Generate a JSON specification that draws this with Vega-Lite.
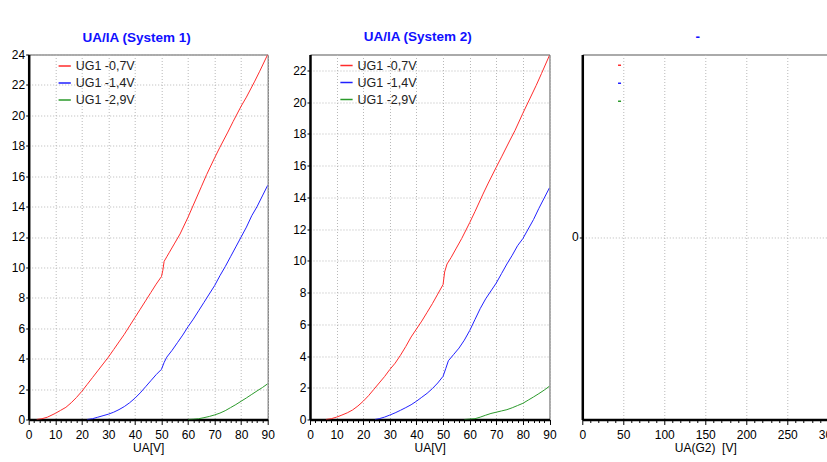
{
  "$schema": "https://vega.github.io/schema/vega-lite/v6.json",
  "padding": {"left": 10.7, "top": 29.5, "right": 0, "bottom": 0},
  "background": "white",
  "spacing": 13.3,
  "bounds": "full",
  "config": {
    "font": "Liberation Sans",
    "view": {"stroke": "#555555", "strokeWidth": 1},
    "axis": {
      "labelFont": "Liberation Sans", "labelFontSize": 12, "labelColor": "#000000",
      "titleFont": "Liberation Sans", "titleFontSize": 12, "titleFontWeight": "normal", "titleColor": "#000000",
      "domainColor": "#000000", "domainWidth": 2.5, "tickColor": "#000000", "tickWidth": 1,
      "gridColor": "#b8b8b8", "gridDash": [1, 2], "gridWidth": 1
    },
    "title": {"font": "Liberation Sans", "fontSize": 13.5, "fontWeight": "bold", "color": "#1010ff", "baseline": "alphabetic", "offset": 11},
    "legend": {"padding": 0, "labelFont": "Liberation Sans", "labelFontSize": 12.5, "labelColor": "#222222", "symbolType": "stroke", "symbolOffset": 0}
  },
  "datasets": {
    "curves": [
      {"panel": "S1", "series": "UG1 -0,7V", "ua": 3, "ia": 0},
      {"panel": "S1", "series": "UG1 -0,7V", "ua": 5, "ia": 0.05},
      {"panel": "S1", "series": "UG1 -0,7V", "ua": 7, "ia": 0.15},
      {"panel": "S1", "series": "UG1 -0,7V", "ua": 10, "ia": 0.4},
      {"panel": "S1", "series": "UG1 -0,7V", "ua": 12, "ia": 0.6},
      {"panel": "S1", "series": "UG1 -0,7V", "ua": 14, "ia": 0.8},
      {"panel": "S1", "series": "UG1 -0,7V", "ua": 16, "ia": 1.1},
      {"panel": "S1", "series": "UG1 -0,7V", "ua": 18, "ia": 1.45},
      {"panel": "S1", "series": "UG1 -0,7V", "ua": 20, "ia": 1.85},
      {"panel": "S1", "series": "UG1 -0,7V", "ua": 22, "ia": 2.3},
      {"panel": "S1", "series": "UG1 -0,7V", "ua": 24, "ia": 2.75},
      {"panel": "S1", "series": "UG1 -0,7V", "ua": 26, "ia": 3.2},
      {"panel": "S1", "series": "UG1 -0,7V", "ua": 28, "ia": 3.65},
      {"panel": "S1", "series": "UG1 -0,7V", "ua": 30, "ia": 4.1},
      {"panel": "S1", "series": "UG1 -0,7V", "ua": 32, "ia": 4.6},
      {"panel": "S1", "series": "UG1 -0,7V", "ua": 34, "ia": 5.1},
      {"panel": "S1", "series": "UG1 -0,7V", "ua": 36, "ia": 5.6},
      {"panel": "S1", "series": "UG1 -0,7V", "ua": 38, "ia": 6.15},
      {"panel": "S1", "series": "UG1 -0,7V", "ua": 40, "ia": 6.7},
      {"panel": "S1", "series": "UG1 -0,7V", "ua": 42, "ia": 7.25},
      {"panel": "S1", "series": "UG1 -0,7V", "ua": 44, "ia": 7.8},
      {"panel": "S1", "series": "UG1 -0,7V", "ua": 46, "ia": 8.35},
      {"panel": "S1", "series": "UG1 -0,7V", "ua": 48, "ia": 8.9},
      {"panel": "S1", "series": "UG1 -0,7V", "ua": 50, "ia": 9.4},
      {"panel": "S1", "series": "UG1 -0,7V", "ua": 50.5, "ia": 9.8},
      {"panel": "S1", "series": "UG1 -0,7V", "ua": 51, "ia": 10.4},
      {"panel": "S1", "series": "UG1 -0,7V", "ua": 52, "ia": 10.7},
      {"panel": "S1", "series": "UG1 -0,7V", "ua": 53, "ia": 11.0},
      {"panel": "S1", "series": "UG1 -0,7V", "ua": 55, "ia": 11.6},
      {"panel": "S1", "series": "UG1 -0,7V", "ua": 57, "ia": 12.2},
      {"panel": "S1", "series": "UG1 -0,7V", "ua": 60, "ia": 13.3},
      {"panel": "S1", "series": "UG1 -0,7V", "ua": 62, "ia": 14.1},
      {"panel": "S1", "series": "UG1 -0,7V", "ua": 65, "ia": 15.3},
      {"panel": "S1", "series": "UG1 -0,7V", "ua": 67, "ia": 16.1},
      {"panel": "S1", "series": "UG1 -0,7V", "ua": 70, "ia": 17.2},
      {"panel": "S1", "series": "UG1 -0,7V", "ua": 72, "ia": 17.9},
      {"panel": "S1", "series": "UG1 -0,7V", "ua": 75, "ia": 18.9},
      {"panel": "S1", "series": "UG1 -0,7V", "ua": 77, "ia": 19.6},
      {"panel": "S1", "series": "UG1 -0,7V", "ua": 80, "ia": 20.6},
      {"panel": "S1", "series": "UG1 -0,7V", "ua": 82, "ia": 21.2},
      {"panel": "S1", "series": "UG1 -0,7V", "ua": 85, "ia": 22.2},
      {"panel": "S1", "series": "UG1 -0,7V", "ua": 87, "ia": 22.9},
      {"panel": "S1", "series": "UG1 -0,7V", "ua": 90, "ia": 24.0},
      {"panel": "S1", "series": "UG1 -1,4V", "ua": 22, "ia": 0},
      {"panel": "S1", "series": "UG1 -1,4V", "ua": 24, "ia": 0.05},
      {"panel": "S1", "series": "UG1 -1,4V", "ua": 26, "ia": 0.15},
      {"panel": "S1", "series": "UG1 -1,4V", "ua": 28, "ia": 0.25},
      {"panel": "S1", "series": "UG1 -1,4V", "ua": 30, "ia": 0.35},
      {"panel": "S1", "series": "UG1 -1,4V", "ua": 32, "ia": 0.48},
      {"panel": "S1", "series": "UG1 -1,4V", "ua": 34, "ia": 0.65},
      {"panel": "S1", "series": "UG1 -1,4V", "ua": 36, "ia": 0.85},
      {"panel": "S1", "series": "UG1 -1,4V", "ua": 38, "ia": 1.1},
      {"panel": "S1", "series": "UG1 -1,4V", "ua": 40, "ia": 1.4},
      {"panel": "S1", "series": "UG1 -1,4V", "ua": 42, "ia": 1.75},
      {"panel": "S1", "series": "UG1 -1,4V", "ua": 44, "ia": 2.15},
      {"panel": "S1", "series": "UG1 -1,4V", "ua": 46, "ia": 2.55},
      {"panel": "S1", "series": "UG1 -1,4V", "ua": 48, "ia": 2.95},
      {"panel": "S1", "series": "UG1 -1,4V", "ua": 50, "ia": 3.3},
      {"panel": "S1", "series": "UG1 -1,4V", "ua": 51, "ia": 3.75},
      {"panel": "S1", "series": "UG1 -1,4V", "ua": 52, "ia": 4.1},
      {"panel": "S1", "series": "UG1 -1,4V", "ua": 54, "ia": 4.55},
      {"panel": "S1", "series": "UG1 -1,4V", "ua": 56, "ia": 5.05},
      {"panel": "S1", "series": "UG1 -1,4V", "ua": 58, "ia": 5.55},
      {"panel": "S1", "series": "UG1 -1,4V", "ua": 60, "ia": 6.1},
      {"panel": "S1", "series": "UG1 -1,4V", "ua": 62, "ia": 6.6},
      {"panel": "S1", "series": "UG1 -1,4V", "ua": 64, "ia": 7.15},
      {"panel": "S1", "series": "UG1 -1,4V", "ua": 66, "ia": 7.7},
      {"panel": "S1", "series": "UG1 -1,4V", "ua": 68, "ia": 8.25},
      {"panel": "S1", "series": "UG1 -1,4V", "ua": 70, "ia": 8.8},
      {"panel": "S1", "series": "UG1 -1,4V", "ua": 72, "ia": 9.45},
      {"panel": "S1", "series": "UG1 -1,4V", "ua": 74, "ia": 10.05},
      {"panel": "S1", "series": "UG1 -1,4V", "ua": 76, "ia": 10.7},
      {"panel": "S1", "series": "UG1 -1,4V", "ua": 78, "ia": 11.35},
      {"panel": "S1", "series": "UG1 -1,4V", "ua": 80, "ia": 12.0},
      {"panel": "S1", "series": "UG1 -1,4V", "ua": 82, "ia": 12.65},
      {"panel": "S1", "series": "UG1 -1,4V", "ua": 84, "ia": 13.4},
      {"panel": "S1", "series": "UG1 -1,4V", "ua": 86, "ia": 14.0},
      {"panel": "S1", "series": "UG1 -1,4V", "ua": 88, "ia": 14.7},
      {"panel": "S1", "series": "UG1 -1,4V", "ua": 90, "ia": 15.4},
      {"panel": "S1", "series": "UG1 -2,9V", "ua": 60, "ia": 0},
      {"panel": "S1", "series": "UG1 -2,9V", "ua": 62, "ia": 0.02},
      {"panel": "S1", "series": "UG1 -2,9V", "ua": 64, "ia": 0.05},
      {"panel": "S1", "series": "UG1 -2,9V", "ua": 66, "ia": 0.12},
      {"panel": "S1", "series": "UG1 -2,9V", "ua": 68, "ia": 0.2},
      {"panel": "S1", "series": "UG1 -2,9V", "ua": 70, "ia": 0.3},
      {"panel": "S1", "series": "UG1 -2,9V", "ua": 72, "ia": 0.42},
      {"panel": "S1", "series": "UG1 -2,9V", "ua": 74, "ia": 0.58},
      {"panel": "S1", "series": "UG1 -2,9V", "ua": 76, "ia": 0.78},
      {"panel": "S1", "series": "UG1 -2,9V", "ua": 78, "ia": 0.98},
      {"panel": "S1", "series": "UG1 -2,9V", "ua": 80, "ia": 1.2},
      {"panel": "S1", "series": "UG1 -2,9V", "ua": 82, "ia": 1.42},
      {"panel": "S1", "series": "UG1 -2,9V", "ua": 84, "ia": 1.65},
      {"panel": "S1", "series": "UG1 -2,9V", "ua": 86, "ia": 1.88},
      {"panel": "S1", "series": "UG1 -2,9V", "ua": 88, "ia": 2.1},
      {"panel": "S1", "series": "UG1 -2,9V", "ua": 90, "ia": 2.35},
      {"panel": "S2", "series": "UG1 -0,7V", "ua": 6, "ia": 0},
      {"panel": "S2", "series": "UG1 -0,7V", "ua": 8, "ia": 0.05},
      {"panel": "S2", "series": "UG1 -0,7V", "ua": 10, "ia": 0.15},
      {"panel": "S2", "series": "UG1 -0,7V", "ua": 12, "ia": 0.28},
      {"panel": "S2", "series": "UG1 -0,7V", "ua": 14, "ia": 0.42},
      {"panel": "S2", "series": "UG1 -0,7V", "ua": 16, "ia": 0.6},
      {"panel": "S2", "series": "UG1 -0,7V", "ua": 18, "ia": 0.85},
      {"panel": "S2", "series": "UG1 -0,7V", "ua": 20, "ia": 1.15},
      {"panel": "S2", "series": "UG1 -0,7V", "ua": 22, "ia": 1.5},
      {"panel": "S2", "series": "UG1 -0,7V", "ua": 24, "ia": 1.9},
      {"panel": "S2", "series": "UG1 -0,7V", "ua": 26, "ia": 2.3},
      {"panel": "S2", "series": "UG1 -0,7V", "ua": 28, "ia": 2.7},
      {"panel": "S2", "series": "UG1 -0,7V", "ua": 30, "ia": 3.15},
      {"panel": "S2", "series": "UG1 -0,7V", "ua": 32, "ia": 3.55},
      {"panel": "S2", "series": "UG1 -0,7V", "ua": 34, "ia": 4.05},
      {"panel": "S2", "series": "UG1 -0,7V", "ua": 36, "ia": 4.6},
      {"panel": "S2", "series": "UG1 -0,7V", "ua": 38, "ia": 5.2},
      {"panel": "S2", "series": "UG1 -0,7V", "ua": 40, "ia": 5.7},
      {"panel": "S2", "series": "UG1 -0,7V", "ua": 42, "ia": 6.2},
      {"panel": "S2", "series": "UG1 -0,7V", "ua": 44, "ia": 6.75},
      {"panel": "S2", "series": "UG1 -0,7V", "ua": 46, "ia": 7.3},
      {"panel": "S2", "series": "UG1 -0,7V", "ua": 48, "ia": 7.9},
      {"panel": "S2", "series": "UG1 -0,7V", "ua": 50, "ia": 8.5},
      {"panel": "S2", "series": "UG1 -0,7V", "ua": 50.6, "ia": 9.3},
      {"panel": "S2", "series": "UG1 -0,7V", "ua": 51.5, "ia": 9.8},
      {"panel": "S2", "series": "UG1 -0,7V", "ua": 53, "ia": 10.2},
      {"panel": "S2", "series": "UG1 -0,7V", "ua": 55, "ia": 10.8},
      {"panel": "S2", "series": "UG1 -0,7V", "ua": 57, "ia": 11.4},
      {"panel": "S2", "series": "UG1 -0,7V", "ua": 60, "ia": 12.4},
      {"panel": "S2", "series": "UG1 -0,7V", "ua": 62, "ia": 13.1},
      {"panel": "S2", "series": "UG1 -0,7V", "ua": 65, "ia": 14.2},
      {"panel": "S2", "series": "UG1 -0,7V", "ua": 67, "ia": 14.9},
      {"panel": "S2", "series": "UG1 -0,7V", "ua": 70, "ia": 15.9},
      {"panel": "S2", "series": "UG1 -0,7V", "ua": 72, "ia": 16.55},
      {"panel": "S2", "series": "UG1 -0,7V", "ua": 75, "ia": 17.55},
      {"panel": "S2", "series": "UG1 -0,7V", "ua": 77, "ia": 18.2},
      {"panel": "S2", "series": "UG1 -0,7V", "ua": 80, "ia": 19.3},
      {"panel": "S2", "series": "UG1 -0,7V", "ua": 82, "ia": 20.0},
      {"panel": "S2", "series": "UG1 -0,7V", "ua": 85, "ia": 21.05},
      {"panel": "S2", "series": "UG1 -0,7V", "ua": 87, "ia": 21.8},
      {"panel": "S2", "series": "UG1 -0,7V", "ua": 90, "ia": 22.95},
      {"panel": "S2", "series": "UG1 -1,4V", "ua": 24.4, "ia": 0},
      {"panel": "S2", "series": "UG1 -1,4V", "ua": 26, "ia": 0.05},
      {"panel": "S2", "series": "UG1 -1,4V", "ua": 28, "ia": 0.15},
      {"panel": "S2", "series": "UG1 -1,4V", "ua": 30, "ia": 0.28},
      {"panel": "S2", "series": "UG1 -1,4V", "ua": 32, "ia": 0.42},
      {"panel": "S2", "series": "UG1 -1,4V", "ua": 34, "ia": 0.58},
      {"panel": "S2", "series": "UG1 -1,4V", "ua": 36, "ia": 0.75},
      {"panel": "S2", "series": "UG1 -1,4V", "ua": 38, "ia": 0.93},
      {"panel": "S2", "series": "UG1 -1,4V", "ua": 40, "ia": 1.15},
      {"panel": "S2", "series": "UG1 -1,4V", "ua": 42, "ia": 1.4},
      {"panel": "S2", "series": "UG1 -1,4V", "ua": 44, "ia": 1.65},
      {"panel": "S2", "series": "UG1 -1,4V", "ua": 46, "ia": 1.95},
      {"panel": "S2", "series": "UG1 -1,4V", "ua": 48, "ia": 2.3},
      {"panel": "S2", "series": "UG1 -1,4V", "ua": 50, "ia": 2.72},
      {"panel": "S2", "series": "UG1 -1,4V", "ua": 51, "ia": 3.2},
      {"panel": "S2", "series": "UG1 -1,4V", "ua": 52, "ia": 3.7},
      {"panel": "S2", "series": "UG1 -1,4V", "ua": 54, "ia": 4.1},
      {"panel": "S2", "series": "UG1 -1,4V", "ua": 56, "ia": 4.5},
      {"panel": "S2", "series": "UG1 -1,4V", "ua": 58, "ia": 5.0},
      {"panel": "S2", "series": "UG1 -1,4V", "ua": 60, "ia": 5.6},
      {"panel": "S2", "series": "UG1 -1,4V", "ua": 62, "ia": 6.3},
      {"panel": "S2", "series": "UG1 -1,4V", "ua": 64, "ia": 7.0},
      {"panel": "S2", "series": "UG1 -1,4V", "ua": 66, "ia": 7.6},
      {"panel": "S2", "series": "UG1 -1,4V", "ua": 68, "ia": 8.1},
      {"panel": "S2", "series": "UG1 -1,4V", "ua": 70, "ia": 8.6},
      {"panel": "S2", "series": "UG1 -1,4V", "ua": 72, "ia": 9.2},
      {"panel": "S2", "series": "UG1 -1,4V", "ua": 74, "ia": 9.8},
      {"panel": "S2", "series": "UG1 -1,4V", "ua": 76, "ia": 10.35},
      {"panel": "S2", "series": "UG1 -1,4V", "ua": 78, "ia": 10.95},
      {"panel": "S2", "series": "UG1 -1,4V", "ua": 80, "ia": 11.4},
      {"panel": "S2", "series": "UG1 -1,4V", "ua": 82, "ia": 12.0},
      {"panel": "S2", "series": "UG1 -1,4V", "ua": 84, "ia": 12.6},
      {"panel": "S2", "series": "UG1 -1,4V", "ua": 86, "ia": 13.3},
      {"panel": "S2", "series": "UG1 -1,4V", "ua": 88, "ia": 13.95},
      {"panel": "S2", "series": "UG1 -1,4V", "ua": 90, "ia": 14.6},
      {"panel": "S2", "series": "UG1 -2,9V", "ua": 58, "ia": 0},
      {"panel": "S2", "series": "UG1 -2,9V", "ua": 62, "ia": 0.05},
      {"panel": "S2", "series": "UG1 -2,9V", "ua": 64, "ia": 0.15},
      {"panel": "S2", "series": "UG1 -2,9V", "ua": 66, "ia": 0.27},
      {"panel": "S2", "series": "UG1 -2,9V", "ua": 68, "ia": 0.38},
      {"panel": "S2", "series": "UG1 -2,9V", "ua": 70, "ia": 0.46},
      {"panel": "S2", "series": "UG1 -2,9V", "ua": 72, "ia": 0.54},
      {"panel": "S2", "series": "UG1 -2,9V", "ua": 74, "ia": 0.62},
      {"panel": "S2", "series": "UG1 -2,9V", "ua": 76, "ia": 0.74},
      {"panel": "S2", "series": "UG1 -2,9V", "ua": 78, "ia": 0.88},
      {"panel": "S2", "series": "UG1 -2,9V", "ua": 80, "ia": 1.02},
      {"panel": "S2", "series": "UG1 -2,9V", "ua": 82, "ia": 1.22},
      {"panel": "S2", "series": "UG1 -2,9V", "ua": 84, "ia": 1.42},
      {"panel": "S2", "series": "UG1 -2,9V", "ua": 86, "ia": 1.63},
      {"panel": "S2", "series": "UG1 -2,9V", "ua": 88, "ia": 1.85},
      {"panel": "S2", "series": "UG1 -2,9V", "ua": 90, "ia": 2.1}
    ]
  },
  "hconcat": [
    {
      "width": 239, "height": 365,
      "title": {"text": "UA/IA (System 1)", "dx": -11.5, "offset": 4.5},
      "data": {"name": "curves"},
      "transform": [{"filter": "datum.panel === 'S1'"}],
      "mark": {"type": "line", "strokeWidth": 1, "clip": true},
      "encoding": {
        "x": {"field": "ua", "type": "quantitative", "scale": {"domain": [0, 90], "nice": false},
          "axis": {"title": "UA[V]", "values": [0,2,4,6,8,10,12,14,16,18,20,22,24,26,28,30,32,34,36,38,40,42,44,46,48,50,52,54,56,58,60,62,64,66,68,70,72,74,76,78,80,82,84,86,88,90],
            "labelExpr": "datum.value % 10 === 0 ? datum.label : ''", "labelOverlap": false, "labelFlush": false,
            "gridOpacity": {"condition": {"test": "datum.value % 10 === 0", "value": 1}, "value": 0},
            "tickSize": {"condition": {"test": "datum.value % 10 === 0", "value": 5}, "value": 3},
            "labelPadding": 5, "titlePadding": 2}},
        "y": {"field": "ia", "type": "quantitative", "scale": {"domain": [0, 24], "nice": false},
          "axis": {"title": null, "values": [0,2,4,6,8,10,12,14,16,18,20,22,24], "tickSize": 3, "labelPadding": 1}},
        "color": {"field": "series", "type": "nominal",
          "scale": {"domain": ["UG1 -0,7V", "UG1 -1,4V", "UG1 -2,9V"], "range": ["#ff2b2b", "#2020ff", "#2a9a2a"]},
          "legend": {"title": null, "orient": "none", "legendX": 29, "legendY": 4.5, "symbolSize": 150, "symbolStrokeWidth": 1.5, "labelOffset": 4, "rowPadding": 3,
            "encode": {"symbols": {"update": {"stroke": {"signal": "datum.value === 'UG1 -2,9V' ? '#40e040' : datum.value === 'UG1 -0,7V' ? '#ff2020' : '#1a1aff'"}}}}}}
      }
    },
    {
      "width": 239.5, "height": 365,
      "title": {"text": "UA/IA (System 2)", "dx": -12},
      "data": {"name": "curves"},
      "transform": [{"filter": "datum.panel === 'S2'"}],
      "mark": {"type": "line", "strokeWidth": 1, "clip": true},
      "encoding": {
        "x": {"field": "ua", "type": "quantitative", "scale": {"domain": [0, 90], "nice": false},
          "axis": {"title": "UA[V]", "values": [0,2,4,6,8,10,12,14,16,18,20,22,24,26,28,30,32,34,36,38,40,42,44,46,48,50,52,54,56,58,60,62,64,66,68,70,72,74,76,78,80,82,84,86,88,90],
            "labelExpr": "datum.value % 10 === 0 ? datum.label : ''", "labelOverlap": false, "labelFlush": false,
            "gridOpacity": {"condition": {"test": "datum.value % 10 === 0", "value": 1}, "value": 0},
            "tickSize": {"condition": {"test": "datum.value % 10 === 0", "value": 5}, "value": 3},
            "labelPadding": 5, "titlePadding": 2}},
        "y": {"field": "ia", "type": "quantitative", "scale": {"domain": [0, 23], "nice": false},
          "axis": {"title": null, "values": [0,2,4,6,8,10,12,14,16,18,20,22], "tickSize": 3, "labelPadding": 1, "minExtent": 20, "maxExtent": 20}},
        "color": {"field": "series", "type": "nominal",
          "scale": {"domain": ["UG1 -0,7V", "UG1 -1,4V", "UG1 -2,9V"], "range": ["#ff2b2b", "#2020ff", "#2a9a2a"]},
          "legend": {"title": null, "orient": "none", "legendX": 29.5, "legendY": 4, "symbolSize": 150, "symbolStrokeWidth": 1.5, "labelOffset": 4, "rowPadding": 3,
            "encode": {"symbols": {"update": {"stroke": {"signal": "datum.value === 'UG1 -2,9V' ? '#40e040' : datum.value === 'UG1 -0,7V' ? '#ff2020' : '#1a1aff'"}}}}}}
      }
    },
    {
      "width": 246, "height": 365,
      "title": {"text": "-", "dx": -7.5},
      "data": {"name": "curves"},
      "transform": [{"filter": "datum.panel === 'S3'"}],
      "mark": {"type": "line", "strokeWidth": 1},
      "encoding": {
        "x": {"field": "ua", "type": "quantitative", "scale": {"domain": [0, 300], "nice": false},
          "axis": {"title": "UA(G2)\u00a0 [V]", "values": [0,10,20,30,40,50,60,70,80,90,100,110,120,130,140,150,160,170,180,190,200,210,220,230,240,250,260,270,280,290,300],
            "labelExpr": "datum.value % 50 === 0 ? datum.label : ''", "labelOverlap": false, "labelFlush": false,
            "gridOpacity": {"condition": {"test": "datum.value % 50 === 0", "value": 1}, "value": 0},
            "tickSize": {"condition": {"test": "datum.value % 50 === 0", "value": 5}, "value": 3},
            "labelPadding": 5, "titlePadding": 2}},
        "y": {"field": "ia", "type": "quantitative", "scale": {"domain": [-1, 1], "nice": false},
          "axis": {"title": null, "values": [0], "tickSize": 3, "labelPadding": 1}},
        "color": {"field": "series", "type": "nominal",
          "scale": {"domain": ["UG1 -0,7V", "UG1 -1,4V", "UG1 -2,9V"], "range": ["#ff2b2b", "#2020ff", "#2a9a2a"]},
          "legend": {"title": null, "orient": "none", "legendX": 31, "legendY": 4.5, "symbolSize": 9, "symbolStrokeWidth": 1.5, "labelOffset": 0, "rowPadding": 5,
            "labelExpr": "' '",
            "encode": {"symbols": {"update": {"stroke": {"signal": "datum.value === 'UG1 -2,9V' ? '#40e040' : datum.value === 'UG1 -0,7V' ? '#ff2020' : '#1a1aff'"}}}}}}
      }
    }
  ],
  "resolve": {"scale": {"color": "independent"}, "legend": {"color": "independent"}}
}
